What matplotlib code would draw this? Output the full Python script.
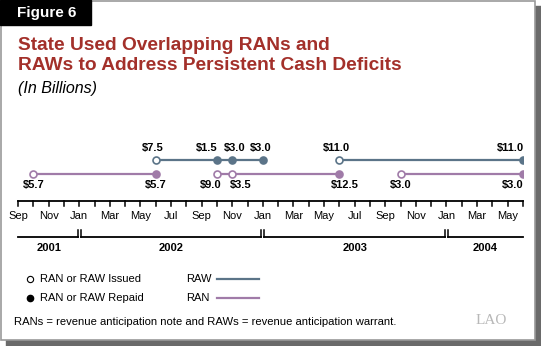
import matplotlib.pyplot as plt
from matplotlib.patches import Rectangle
from matplotlib.lines import Line2D

# ---- data (month strings are "YYYY-MM") ----
start_month = "2001-09"
end_month = "2004-06"

raw_periods = [("2002-06", "2003-01"), ("2003-06", "2004-06")]
ran_periods = [("2001-10", "2002-06"), ("2002-10", "2003-06"), ("2003-10", "2004-06")]

raw_issue_dates = ["2002-06", "2003-06"]
raw_issue_amts = [7.5, 11.0]
raw_repay_dates = ["2002-10", "2002-11", "2003-01", "2004-06"]
raw_repay_amts = [1.5, 3.0, 3.0, 11.0]

ran_issue_dates = ["2001-10", "2002-10", "2002-11", "2003-10"]
ran_issue_amts = [5.7, 9.0, 3.5, 3.0]
ran_repay_dates = ["2002-06", "2003-06", "2004-06"]
ran_repay_amts = [5.7, 12.5, 3.0]

month_names = ["Jan", "Feb", "Mar", "Apr", "May", "Jun",
               "Jul", "Aug", "Sep", "Oct", "Nov", "Dec"]
years = [2001, 2002, 2003, 2004]

RAW_COLOR = "#5b7488"
RAN_COLOR = "#a07ba8"
TITLE_COLOR = "#a3302a"
FONT = "Liberation Sans"

# label nudges in pixels so crowded labels don't collide (None = right-align)
nudge = {
    ("raw_issue", 0): -3, ("raw_issue", 1): -3,
    ("raw_repay", 0): -10, ("raw_repay", 1): 2, ("raw_repay", 2): -2,
    ("raw_repay", 3): None,
    ("ran_issue", 1): -6, ("ran_issue", 2): 8,
    ("ran_repay", 1): 5, ("ran_repay", 2): None,
}


def midx(s):
    y, m = map(int, s.split("-"))
    y0, m0 = map(int, start_month.split("-"))
    return (y - y0) * 12 + (m - m0)


W, H = 541, 346
fig = plt.figure(figsize=(W / 100, H / 100), dpi=100)
plt.rcParams['font.family'] = FONT

# background panel (figure pixel coords, y down)
bg = fig.add_axes([0, 0, 1, 1])
bg.set_xlim(0, W)
bg.set_ylim(H, 0)
bg.axis("off")
bg.add_patch(Rectangle((6, 6), 535, 340, color="#6a6a6a", zorder=0))
bg.add_patch(Rectangle((0.5, 0.5), 534, 339, facecolor="white",
                       edgecolor="#9a9a9a", lw=1.2, zorder=1))
bg.add_patch(Rectangle((0, 0), 91, 25, color="black", zorder=2))
bg.text(17, 13, "Figure 6", color="white", fontsize=11, fontweight="bold",
        va="center", ha="left", zorder=3)
bg.text(18, 45, "State Used Overlapping RANs and", color=TITLE_COLOR,
        fontsize=13.8, fontweight="bold", va="center", ha="left", zorder=3)
bg.text(18, 65, "RAWs to Address Persistent Cash Deficits", color=TITLE_COLOR,
        fontsize=13.8, fontweight="bold", va="center", ha="left", zorder=3)
bg.text(18, 89, "(In Billions)", fontsize=11.5, style="italic", va="center",
        ha="left", zorder=3)

# legend
bg.plot([30], [279], "o", ms=4.5, mfc="white", mec="black", mew=0.8, zorder=3)
bg.plot([30], [298], "o", ms=4.5, mfc="black", mec="black", zorder=3)
bg.text(40, 279, "RAN or RAW Issued", fontsize=8, va="center", zorder=3)
bg.text(40, 298, "RAN or RAW Repaid", fontsize=8, va="center", zorder=3)
bg.text(186, 279, "RAW", fontsize=8, va="center", zorder=3)
bg.text(186, 298, "RAN", fontsize=8, va="center", zorder=3)
bg.add_line(Line2D([217, 259], [279, 279], color=RAW_COLOR, lw=1.6, zorder=3))
bg.add_line(Line2D([217, 259], [298, 298], color=RAN_COLOR, lw=1.6, zorder=3))
bg.text(14, 322, "RANs = revenue anticipation note and RAWs = revenue anticipation warrant.",
        fontsize=8.1, va="center", zorder=3)
bg.text(476, 320, "LAO", family="Liberation Serif", fontsize=11, color="#b8b8b8",
        va="center", zorder=3)

# timeline axes: x in months from start, y in pixel rows
x0_px, x1_px = 18, 523
n_months = midx(end_month)
ax = fig.add_axes([x0_px / W, 0, (x1_px - x0_px) / W, 1])
ax.set_xlim(0, n_months)
ax.set_ylim(H, 0)
ax.axis("off")
ax.patch.set_alpha(0)

y_raw, y_ran = 160, 174

for a, b in raw_periods:
    ax.plot([midx(a), midx(b)], [y_raw, y_raw], color=RAW_COLOR, lw=1.6, zorder=4)
for a, b in ran_periods:
    ax.plot([midx(a), midx(b)], [y_ran, y_ran], color=RAN_COLOR, lw=1.6, zorder=4)


def label(key, i, x, y, v, dy, va):
    dx = nudge.get((key, i), 0)
    ha = "center"
    if dx is None:
        dx, ha = 1, "right"
    ax.annotate(f"${v:.1f}", (x, y), xytext=(dx * 0.72, dy * 0.72),
                textcoords="offset points", ha=ha, va=va, fontsize=8,
                fontweight="bold", zorder=6)


series = [
    ("raw_issue", raw_issue_dates, raw_issue_amts, y_raw, RAW_COLOR, False),
    ("raw_repay", raw_repay_dates, raw_repay_amts, y_raw, RAW_COLOR, True),
    ("ran_issue", ran_issue_dates, ran_issue_amts, y_ran, RAN_COLOR, False),
    ("ran_repay", ran_repay_dates, ran_repay_amts, y_ran, RAN_COLOR, True),
]
for key, dates, amts, yy, col, filled in series:
    for i, (d, v) in enumerate(zip(dates, amts)):
        ax.plot(midx(d), yy, "o", ms=5, mfc=col if filled else "white",
                mec=col, mew=1.2, zorder=5)
        if yy == y_raw:
            label(key, i, midx(d), yy, v, 7, "bottom")
        else:
            label(key, i, midx(d), yy, v, -6, "top")

# month axis
y_axis = 201
ax.plot([0, n_months], [y_axis, y_axis], color="black", lw=1.3, clip_on=False)
y0, m0 = map(int, start_month.split("-"))
for i in range(n_months + 1):
    m = (m0 - 1 + i) % 12
    ax.plot([i, i], [y_axis, y_axis + 5], color="black", lw=1.1, clip_on=False)
    if i % 2 == 0:
        ax.text(i, 216, month_names[m], fontsize=8, ha="center", va="center")

# year brackets
y_br = 237
gap = 0.1
for yr in years:
    a = max(0, midx(f"{yr}-01"))
    b = min(n_months, midx(f"{yr + 1}-01"))
    xa = a + (gap if a > 0 else 0)
    xb = b - (gap if b < n_months else 0)
    ax.plot([xa, xb], [y_br, y_br], color="black", lw=1.3, clip_on=False)
    if a > 0:
        ax.plot([xa, xa], [y_br, y_br - 7], color="black", lw=1.1)
    if b < n_months:
        ax.plot([xb, xb], [y_br, y_br - 7], color="black", lw=1.1)
    ax.text((a + b) / 2, 248, str(yr), fontsize=8, fontweight="bold",
            ha="center", va="center")

fig.savefig("out.png", dpi=100)
